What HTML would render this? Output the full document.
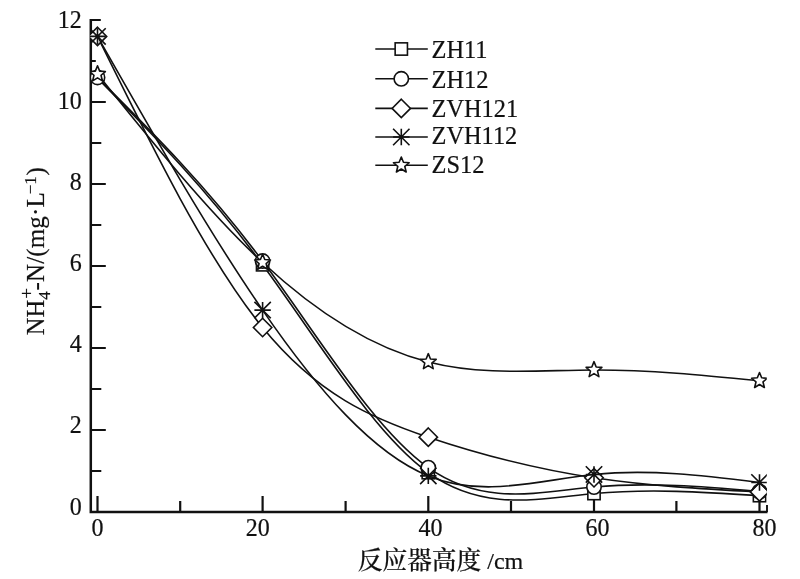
<!DOCTYPE html>
<html lang="zh"><head><meta charset="utf-8"><title>NH4+-N</title>
<style>
html,body{margin:0;padding:0;background:#fff;}
body{width:800px;height:579px;overflow:hidden;}
svg{display:block;}
text{font-family:"Liberation Serif","Noto Serif CJK SC",serif;fill:#111;stroke:#111;stroke-width:.2px;}
.t{font-size:24px;}
.ax{stroke:#111;stroke-width:2.5;fill:none;}
.tk{stroke:#111;stroke-width:1.9;fill:none;}
.c{stroke:#111;stroke-width:1.6;fill:none;}
.m{stroke:#111;stroke-width:1.6;fill:#fff;}
.a{stroke:#111;stroke-width:1.6;fill:none;}
</style></head><body>
<svg width="800" height="579" viewBox="0 0 800 579">
<rect width="800" height="579" fill="#fff"/>
<path class="ax" d="M90.8 19.0V512.0H767.5"/>
<path class="tk" d="M90.8 20.0H100.8M767.0 512.0V505.0"/>
<path class="tk" d="M90.8 471.00h10.5M90.8 430.00h15M90.8 389.00h10.5M90.8 348.00h15M90.8 307.00h10.5M90.8 266.00h15M90.8 225.00h10.5M90.8 184.00h15M90.8 143.00h10.5M90.8 102.00h15M90.8 61.00h5"/>
<path class="tk" style="stroke-width:2.2" d="M97.50 512.0v-16M180.20 512.0v-11M262.60 512.0v-16M345.60 512.0v-11M428.30 512.0v-16M511.00 512.0v-11M594.00 512.0v-16M676.40 512.0v-11M759.50 512.0v-16"/>
<text class="t" transform="translate(81.8,514.5) scale(1,1.07)" text-anchor="end">0</text>
<text class="t" transform="translate(81.8,433.4) scale(1,1.07)" text-anchor="end">2</text>
<text class="t" transform="translate(81.8,352.3) scale(1,1.07)" text-anchor="end">4</text>
<text class="t" transform="translate(81.8,271.3) scale(1,1.07)" text-anchor="end">6</text>
<text class="t" transform="translate(81.8,190.2) scale(1,1.07)" text-anchor="end">8</text>
<text class="t" transform="translate(81.8,109.2) scale(1,1.07)" text-anchor="end">10</text>
<text class="t" transform="translate(81.8,28.1) scale(1,1.07)" text-anchor="end">12</text>
<text class="t" transform="translate(97.5,536.2) scale(1,1.07)" text-anchor="middle">0</text>
<text class="t" transform="translate(257.8,536.2) scale(1,1.07)" text-anchor="middle">20</text>
<text class="t" transform="translate(430.5,536.2) scale(1,1.07)" text-anchor="middle">40</text>
<text class="t" transform="translate(597.4,536.2) scale(1,1.07)" text-anchor="middle">60</text>
<text class="t" transform="translate(764.4,536.2) scale(1,1.07)" text-anchor="middle">80</text>
<text class="t" x="357.8" y="569.3" style="font-size:24.7px;font-weight:500">反应器高度</text>
<text class="t" x="487.3" y="569.3">/cm</text>
<text class="t" transform="translate(43.9,335.3) rotate(-90)" style="font-size:25px"><tspan x="0" y="0" style="font-size:24.5px">NH</tspan><tspan x="35.5" y="5.6" style="font-size:17px">4</tspan><tspan x="36.6" y="-10.5" style="font-size:19px">+</tspan><tspan x="44.9" y="0" style="letter-spacing:0.13px">-N/(mg·L</tspan><tspan x="141.0" y="-8.2" style="font-size:17px">−1</tspan><tspan x="159.8" y="0">)</tspan></text>
<clipPath id="cp"><rect x="90" y="0" width="676.8" height="513"/></clipPath><g clip-path="url(#cp)">
<path class="c" d="M97.50 78.22C152.53 134.25 207.57 190.29 262.60 264.77C317.83 339.52 373.07 432.86 428.30 472.64C483.53 512.42 538.77 498.65 594.00 493.55C649.17 488.46 704.33 492.03 759.50 495.60"/>
<rect x="256.45" y="258.62" width="12.3" height="12.3" class="m"/>
<rect x="422.15" y="466.49" width="12.3" height="12.3" class="m"/>
<rect x="587.85" y="487.40" width="12.3" height="12.3" class="m"/>
<rect x="753.35" y="489.45" width="12.3" height="12.3" class="m"/>
<path class="c" d="M97.50 77.40C152.53 132.30 207.57 187.19 262.60 261.08C317.83 335.24 373.07 428.52 428.30 467.72C483.53 506.92 538.77 492.04 594.00 486.99C649.17 481.95 704.33 486.73 759.50 491.50"/>
<circle cx="97.50" cy="77.40" r="7.2" class="m"/>
<circle cx="262.60" cy="261.08" r="7.2" class="m"/>
<circle cx="428.30" cy="467.72" r="7.2" class="m"/>
<circle cx="594.00" cy="486.99" r="7.2" class="m"/>
<circle cx="759.50" cy="491.50" r="7.2" class="m"/>
<path class="c" d="M97.50 36.40C152.53 148.16 207.57 259.92 262.60 327.50C317.83 395.32 373.07 418.65 428.30 437.18C483.53 455.70 538.77 469.44 594.00 477.76C649.17 486.08 704.33 488.99 759.50 491.91"/>
<polygon points="97.50,27.20 106.70,36.40 97.50,45.60 88.30,36.40" class="m"/>
<polygon points="262.60,318.30 271.80,327.50 262.60,336.70 253.40,327.50" class="m"/>
<polygon points="428.30,427.98 437.50,437.18 428.30,446.38 419.10,437.18" class="m"/>
<polygon points="594.00,468.56 603.20,477.76 594.00,486.96 584.80,477.76" class="m"/>
<polygon points="759.50,482.71 768.70,491.91 759.50,501.11 750.30,491.91" class="m"/>
<path class="c" d="M97.50 36.40C152.53 133.27 207.57 230.14 262.60 310.08C317.83 390.30 373.07 453.45 428.30 475.92C483.53 498.39 538.77 480.17 594.00 474.49C649.17 468.81 704.33 475.65 759.50 482.48"/>
<path d="M89.30 36.40H105.70M97.50 28.20V44.60M89.30 28.20L105.70 44.60M89.30 44.60L105.70 28.20" class="a"/>
<path d="M254.40 310.08H270.80M262.60 301.88V318.28M254.40 301.88L270.80 318.28M254.40 318.28L270.80 301.88" class="a"/>
<path d="M420.10 475.92H436.50M428.30 467.72V484.12M420.10 467.72L436.50 484.12M420.10 484.12L436.50 467.72" class="a"/>
<path d="M585.80 474.49H602.20M594.00 466.29V482.69M585.80 466.29L602.20 482.69M585.80 482.69L602.20 466.29" class="a"/>
<path d="M751.30 482.48H767.70M759.50 474.28V490.68M751.30 474.28L767.70 490.68M751.30 490.68L767.70 474.28" class="a"/>
<path class="c" d="M97.50 74.12C152.53 142.70 207.57 211.28 262.60 262.51C317.83 313.94 373.07 347.90 428.30 361.94C483.53 375.98 538.77 370.11 594.00 369.94C649.17 369.76 704.33 375.28 759.50 380.80"/>
<polygon points="97.50,65.82 99.67,71.13 105.39,71.56 101.02,75.26 102.38,80.83 97.50,77.82 92.62,80.83 93.98,75.26 89.61,71.56 95.33,71.13" class="m" stroke-linejoin="round"/>
<polygon points="262.60,254.21 264.77,259.52 270.49,259.95 266.12,263.66 267.48,269.23 262.60,266.21 257.72,269.23 259.08,263.66 254.71,259.95 260.43,259.52" class="m" stroke-linejoin="round"/>
<polygon points="428.30,353.64 430.47,358.95 436.19,359.38 431.82,363.08 433.18,368.65 428.30,365.64 423.42,368.65 424.78,363.08 420.41,359.38 426.13,358.95" class="m" stroke-linejoin="round"/>
<polygon points="594.00,361.63 596.17,366.94 601.89,367.37 597.52,371.08 598.88,376.65 594.00,373.63 589.12,376.65 590.48,371.08 586.11,367.37 591.83,366.94" class="m" stroke-linejoin="round"/>
<polygon points="759.50,372.50 761.67,377.81 767.39,378.24 763.02,381.94 764.38,387.51 759.50,384.50 754.62,387.51 755.98,381.94 751.61,378.24 757.33,377.81" class="m" stroke-linejoin="round"/>
</g>
<path class="c" d="M375.3 49.0H427.8"/>
<rect x="395.15" y="42.85" width="12.3" height="12.3" class="m"/>
<text class="t" transform="translate(431.5,58.4) scale(1,1.06)" style="font-size:24.4px">ZH11</text>
<path class="c" d="M375.3 78.8H427.8"/>
<circle cx="401.30" cy="78.80" r="7.2" class="m"/>
<text class="t" transform="translate(431.5,88.0) scale(1,1.06)" style="font-size:24.4px">ZH12</text>
<path class="c" d="M375.3 108.4H427.8"/>
<polygon points="401.30,99.20 410.50,108.40 401.30,117.60 392.10,108.40" class="m"/>
<text class="t" transform="translate(431.5,116.6) scale(1,1.06)" style="font-size:24.4px">ZVH121</text>
<path class="c" d="M375.3 137.0H427.8"/>
<path d="M393.10 137.00H409.50M401.30 128.80V145.20M393.10 128.80L409.50 145.20M393.10 145.20L409.50 128.80" class="a"/>
<text class="t" transform="translate(431.5,144.4) scale(1,1.06)" style="font-size:24.4px">ZVH112</text>
<path class="c" d="M375.3 165.3H427.8"/>
<polygon points="401.30,157.00 403.47,162.31 409.19,162.74 404.82,166.44 406.18,172.01 401.30,169.00 396.42,172.01 397.78,166.44 393.41,162.74 399.13,162.31" class="m" stroke-linejoin="round"/>
<text class="t" transform="translate(431.5,172.8) scale(1,1.06)" style="font-size:24.4px">ZS12</text>
</svg></body></html>
